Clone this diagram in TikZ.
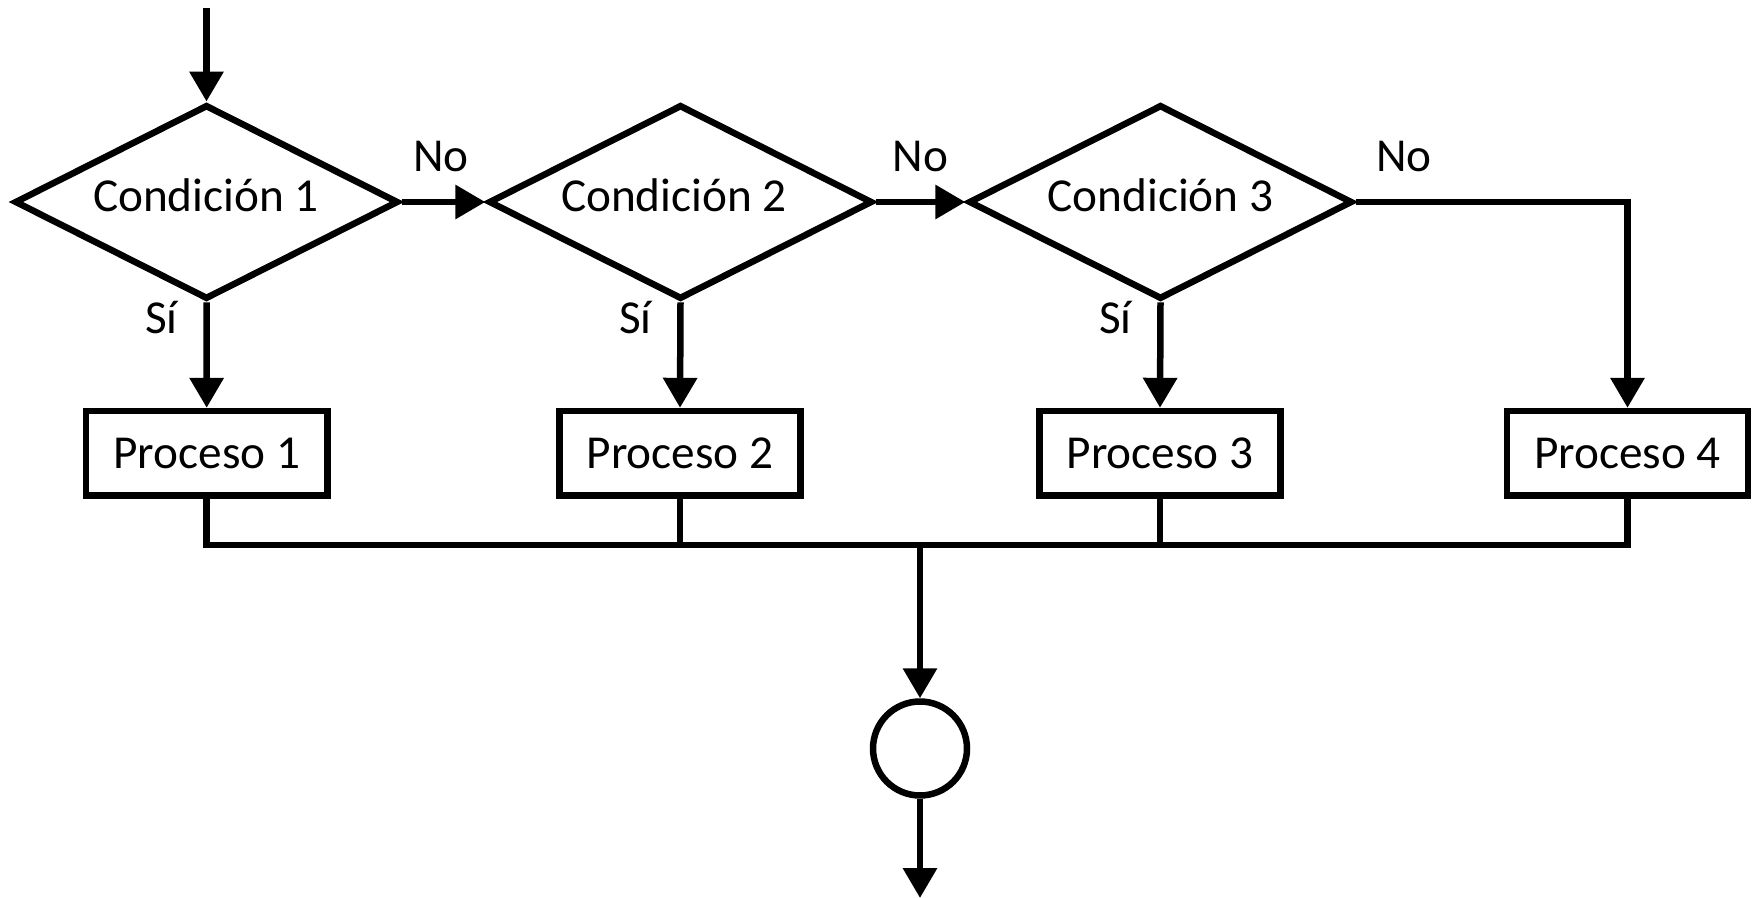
\documentclass[tikz,border=0pt]{standalone}
\usepackage{fontspec}
\setmainfont{Carlito}
\usetikzlibrary{shapes.geometric,arrows.meta}
\begin{document}
\begin{tikzpicture}[x=0.02cm,y=-0.02cm,
  every node/.style={font=\fontsize{26.9pt}{32pt}\selectfont},
  base/.style={line width=0.13cm, line join=miter},
  cond/.style={base, draw, diamond, inner sep=0pt, minimum width=7.68cm, minimum height=3.89cm},
  proc/.style={base, draw, rectangle, inner sep=0pt, minimum width=4.83cm, minimum height=1.69cm},
  term/.style={base, draw, circle, inner sep=0pt, minimum size=1.88cm},
  lbl/.style={anchor=base, inner sep=0pt},
  flow/.style={base, -{Triangle[length=0.6cm, width=0.66cm]}},
  wire/.style={base}]
\useasboundingbox (0,0) rectangle (1758,898);
\coordinate (start) at (206.5,8);
\node[cond] (c1) at (206.5,202) {};
\node[cond] (c2) at (680.5,202) {};
\node[cond] (c3) at (1160.5,202) {};
\node[lbl] (t1) at (206,212) {Condición 1};
\node[lbl] (t2) at (674,212) {Condición 2};
\node[lbl] (t3) at (1160.5,212) {Condición 3};
\node[proc] (p1) at (206.7,453.3) {Proceso 1};
\node[proc] (p2) at (680,453.3) {Proceso 2};
\node[proc] (p3) at (1160,453.3) {Proceso 3};
\node[proc] (p4) at (1627.5,453.3) {Proceso 4};
\node[lbl] (s1) at (161.5,334) {Sí};
\node[lbl] (s2) at (635.5,334) {Sí};
\node[lbl] (s3) at (1115.5,334) {Sí};
\node[lbl] (n1) at (441,172) {No};
\node[lbl] (n2) at (920.5,172) {No};
\node[lbl] (n3) at (1404,172) {No};
\coordinate (bus) at (920,545);
\node[term] (end) at (920,748.5) {};
\coordinate (out) at (920,898);

\draw[flow] (start) -- (c1.north);
\draw[flow] (c1.east) -- (c2.west);
\draw[flow] (c2.east) -- (c3.west);
\draw[flow] (c3.east) -| (p4.north);
\draw[flow] (c1.south) -- (p1.north);
\draw[flow] (c2.south) -- (p2.north);
\draw[flow] (c3.south) -- (p3.north);
\draw[wire] (p1.south) |- (bus) -| (p4.south);
\draw[wire] (p2.south) -- (p2.south |- bus);
\draw[wire] (p3.south) -- (p3.south |- bus);
\draw[flow] (bus) -- (end.north);
\draw[flow] (end.south) -- (out);
\end{tikzpicture}
\end{document}
